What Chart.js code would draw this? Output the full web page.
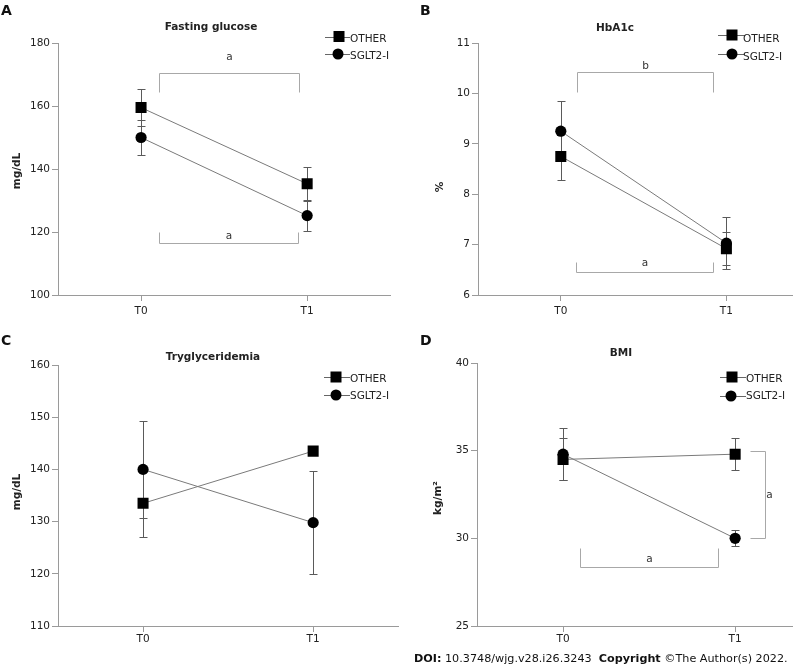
<!DOCTYPE html>
<html>
<head>
<meta charset="utf-8">
<script src="https://cdn.jsdelivr.net/npm/chart.js@4"></script>
<style>
  html, body { margin:0; padding:0; background:#fff; }
  body { width:793px; height:667px; overflow:hidden; position:relative; font-family:"DejaVu Sans", sans-serif; }
  canvas { position:absolute; }
  #doi { position:absolute; left:414px; top:651px; font-size:11.2px; color:#111; white-space:pre; line-height:16px; }
</style>
</head>
<body>
<canvas id="cA" width="398" height="320" style="left:0;top:0"></canvas>
<canvas id="cB" width="424" height="320" style="left:393px;top:0"></canvas>
<canvas id="cC" width="406" height="347" style="left:0;top:320px"></canvas>
<canvas id="cD" width="436" height="347" style="left:393px;top:320px"></canvas>
<div id="doi"><b>DOI:</b> 10.3748/wjg.v28.i26.3243  <b>Copyright</b> ©The Author(s) 2022.</div>
<script>
// ---- data ----
const timepoints = ['T0', 'T1'];
const seriesNames = ['OTHER', 'SGLT2-I'];

const glucoseOther = [159.5, 135.3];
const glucoseOtherErr = [6.0, 5.4];
const glucoseSglt = [150.0, 125.2];
const glucoseSgltErr = [5.5, 5.0];

const hba1cOther = [8.75, 6.92];
const hba1cOtherErr = [0.47, 0.33];
const hba1cSglt = [9.25, 7.03];
const hba1cSgltErr = [0.60, 0.52];

const trigOther = [133.5, 143.5];
const trigOtherErr = [6.5, 0.8];
const trigSglt = [140.0, 129.8];
const trigSgltErr = [9.3, 9.8];

const bmiOther = [34.5, 34.8];
const bmiOtherErr = [1.2, 0.9];
const bmiSglt = [34.8, 30.0];
const bmiSgltErr = [1.5, 0.45];

// significance brackets (category-fraction x, data-unit y)
const glucoseBrackets = [
  { x0: 0.11, x1: 0.95, base: 170.5, leg: 164.4, label: 'a', labelY: 175.6 },
  { x0: 0.106, x1: 0.947, base: 116.5, leg: 120.0, label: 'a', labelY: 118.8 }
];
const hba1cBrackets = [
  { x0: 0.10, x1: 0.92, base: 10.42, leg: 10.03, label: 'b', labelY: 10.53 },
  { x0: 0.09, x1: 0.92, base: 6.46, leg: 6.65, label: 'a', labelY: 6.62 }
];
const trigBrackets = [];
const bmiBrackets = [
  { x0: 0.10, x1: 0.90, base: 28.38, leg: 29.46, label: 'a', labelY: 28.82 },
  { vertical: true, y0: 35.0, y1: 30.0, leg: 1.085, base: 1.176, label: 'a', labelX: 1.2 }
];

const FONT = '"DejaVu Sans", sans-serif';
const AXIS = '#9a9a9a';

const decor = {
  id: 'decor',
  beforeDatasetsDraw(chart, args, o) {
    const ctx = chart.ctx, xs = chart.scales.x, ys = chart.scales.y;
    ctx.save();
    ctx.strokeStyle = '#5a5a5a';
    ctx.lineWidth = 1;
    chart.data.datasets.forEach((ds, i) => {
      const err = o.errors[i];
      ds.data.forEach((v, j) => {
        const px = Math.round(xs.getPixelForValue(j)) + 0.5;
        const yt = Math.round(ys.getPixelForValue(v + err[j])) + 0.5;
        const yb = Math.round(ys.getPixelForValue(v - err[j])) + 0.5;
        ctx.beginPath();
        ctx.moveTo(px, yt); ctx.lineTo(px, yb);
        ctx.moveTo(px - 4, yt); ctx.lineTo(px + 4, yt);
        ctx.moveTo(px - 4, yb); ctx.lineTo(px + 4, yb);
        ctx.stroke();
      });
    });
    ctx.restore();
  },
  afterDraw(chart, args, o) {
    const ctx = chart.ctx, xs = chart.scales.x, ys = chart.scales.y;
    const p0 = xs.getPixelForValue(0), p1 = xs.getPixelForValue(1);
    const fx = f => p0 + f * (p1 - p0);
    ctx.save();
    // panel letter
    ctx.fillStyle = '#111';
    ctx.font = 'bold 14px ' + FONT;
    ctx.textAlign = 'left'; ctx.textBaseline = 'alphabetic';
    ctx.fillText(o.letter, o.letterPos[0], o.letterPos[1]);
    // title
    ctx.font = 'bold 10.5px ' + FONT;
    ctx.textAlign = 'center'; ctx.textBaseline = 'middle';
    ctx.fillStyle = '#222';
    ctx.fillText(o.title, o.titlePos[0], o.titlePos[1]);
    // axis title (rotated)
    ctx.save();
    ctx.translate(o.yTitlePos[0], o.yTitlePos[1]);
    ctx.rotate(-Math.PI / 2);
    ctx.fillText(o.yTitle, 0, 0);
    ctx.restore();
    // legend
    o.legend.forEach((it, i) => {
      ctx.strokeStyle = '#666'; ctx.lineWidth = 1;
      ctx.beginPath();
      ctx.moveTo(it.lx0, Math.round(it.my) + 0.5);
      ctx.lineTo(it.lx1, Math.round(it.my) + 0.5);
      ctx.stroke();
      ctx.fillStyle = '#000';
      if (i === 0) {
        ctx.fillRect(it.mx - 5.5, it.my - 5.5, 11, 11);
      } else {
        ctx.beginPath(); ctx.arc(it.mx, it.my, 5.5, 0, Math.PI * 2); ctx.fill();
      }
      ctx.fillStyle = '#222';
      ctx.font = '10.5px ' + FONT;
      ctx.textAlign = 'left'; ctx.textBaseline = 'middle';
      ctx.fillText(seriesNames[i], it.tx, it.ty);
    });
    // brackets
    ctx.strokeStyle = '#a8a8a8'; ctx.lineWidth = 1;
    ctx.fillStyle = '#333';
    ctx.font = '10.5px ' + FONT;
    ctx.textAlign = 'center'; ctx.textBaseline = 'middle';
    o.brackets.forEach(b => {
      if (!b.vertical) {
        const x0 = Math.round(fx(b.x0)) + 0.5, x1 = Math.round(fx(b.x1)) + 0.5;
        const yb = Math.round(ys.getPixelForValue(b.base)) + 0.5;
        const yl = Math.round(ys.getPixelForValue(b.leg)) + 0.5;
        ctx.beginPath();
        ctx.moveTo(x0, yl); ctx.lineTo(x0, yb); ctx.lineTo(x1, yb); ctx.lineTo(x1, yl);
        ctx.stroke();
        ctx.fillText(b.label, (x0 + x1) / 2, ys.getPixelForValue(b.labelY));
      } else {
        const y0 = Math.round(ys.getPixelForValue(b.y0)) + 0.5, y1 = Math.round(ys.getPixelForValue(b.y1)) + 0.5;
        const xl = Math.round(fx(b.leg)) + 0.5, xb = Math.round(fx(b.base)) + 0.5;
        ctx.beginPath();
        ctx.moveTo(xl, y0); ctx.lineTo(xb, y0); ctx.lineTo(xb, y1); ctx.lineTo(xl, y1);
        ctx.stroke();
        ctx.fillText(b.label, fx(b.labelX), (y0 + y1) / 2);
      }
    });
    ctx.restore();
  }
};

function makeChart(id, cfg) {
  const gridCfg = { display: true, drawOnChartArea: false, drawTicks: true, tickLength: 6, color: AXIS, offset: false };
  return new Chart(document.getElementById(id), {
    type: 'line',
    data: {
      labels: timepoints,
      datasets: [
        { label: seriesNames[0], data: cfg.other, order: 1, pointStyle: 'rect', pointRadius: 7.8,
          pointBackgroundColor: '#000', pointBorderColor: '#000', pointBorderWidth: 0,
          borderColor: '#7a7a7a', borderWidth: 1, fill: false, tension: 0 },
        { label: seriesNames[1], data: cfg.sglt, order: 0, pointStyle: 'circle', pointRadius: 5.6,
          pointBackgroundColor: '#000', pointBorderColor: '#000', pointBorderWidth: 0,
          borderColor: '#7a7a7a', borderWidth: 1, fill: false, tension: 0 }
      ]
    },
    options: {
      responsive: false, animation: false, devicePixelRatio: 1,
      layout: { padding: { top: cfg.top, left: 0, right: 0, bottom: 0 } },
      plugins: {
        legend: { display: false }, title: { display: false }, tooltip: { enabled: false },
        decor: {
          errors: [cfg.otherErr, cfg.sgltErr], brackets: cfg.brackets,
          letter: cfg.letter, letterPos: cfg.letterPos, title: cfg.title, titlePos: cfg.titlePos,
          yTitle: cfg.yTitle, yTitlePos: cfg.yTitlePos, legend: cfg.legend
        }
      },
      scales: {
        x: {
          type: 'category', offset: true,
          grid: gridCfg, border: { display: true, color: AXIS, width: 1 },
          ticks: { color: '#222', font: { family: FONT, size: 10.5 }, padding: cfg.xPad, maxRotation: 0 },
          afterFit: s => { s.height = cfg.bottomH; }
        },
        y: {
          min: cfg.ymin, max: cfg.ymax,
          grid: gridCfg, border: { display: true, color: AXIS, width: 1 },
          ticks: { stepSize: cfg.step, color: '#222', font: { family: FONT, size: 10.5 }, padding: 2 },
          afterFit: s => { s.width = cfg.leftW; }
        }
      }
    },
    plugins: [decor]
  });
}

function legendAt(sq, ci, tx, lx0, lx1) {
  return [
    { mx: sq[0], my: sq[1], tx: tx, ty: sq[2], lx0: lx0, lx1: lx1 },
    { mx: ci[0], my: ci[1], tx: tx, ty: ci[2], lx0: lx0, lx1: lx1 }
  ];
}

makeChart('cA', {
  other: glucoseOther, otherErr: glucoseOtherErr, sglt: glucoseSglt, sgltErr: glucoseSgltErr,
  brackets: glucoseBrackets, ymin: 100, ymax: 180, step: 20,
  top: 43, bottomH: 25, leftW: 58, xPad: 4,
  letter: 'A', letterPos: [1, 15], title: 'Fasting glucose', titlePos: [211, 27],
  yTitle: 'mg/dL', yTitlePos: [17, 171],
  legend: legendAt([339, 36.5, 39], [338, 54, 56], 350, 325, 350)
});
makeChart('cB', {
  other: hba1cOther, otherErr: hba1cOtherErr, sglt: hba1cSglt, sgltErr: hba1cSgltErr,
  brackets: hba1cBrackets, ymin: 6, ymax: 11, step: 1,
  top: 43, bottomH: 25, leftW: 85, xPad: 4,
  letter: 'B', letterPos: [27, 15], title: 'HbA1c', titlePos: [222, 28],
  yTitle: '%', yTitlePos: [47, 187],
  legend: legendAt([339, 35, 39], [339, 54, 57], 350, 325, 352)
});
makeChart('cC', {
  other: trigOther, otherErr: trigOtherErr, sglt: trigSglt, sgltErr: trigSgltErr,
  brackets: trigBrackets, ymin: 110, ymax: 160, step: 10,
  top: 45, bottomH: 41, leftW: 58, xPad: 1,
  letter: 'C', letterPos: [1, 25], title: 'Tryglyceridemia', titlePos: [213, 37],
  yTitle: 'mg/dL', yTitlePos: [17, 172],
  legend: legendAt([336, 57, 59], [336, 75, 76], 350, 324, 350)
});
makeChart('cD', {
  other: bmiOther, otherErr: bmiOtherErr, sglt: bmiSglt, sgltErr: bmiSgltErr,
  brackets: bmiBrackets, ymin: 25, ymax: 40, step: 5,
  top: 43, bottomH: 41, leftW: 84, xPad: 1,
  letter: 'D', letterPos: [27, 25], title: 'BMI', titlePos: [228, 33],
  yTitle: 'kg/m²', yTitlePos: [45, 178],
  legend: legendAt([339, 57, 59], [338, 76, 76], 353, 327, 353)
});
</script>
</body>
</html>
